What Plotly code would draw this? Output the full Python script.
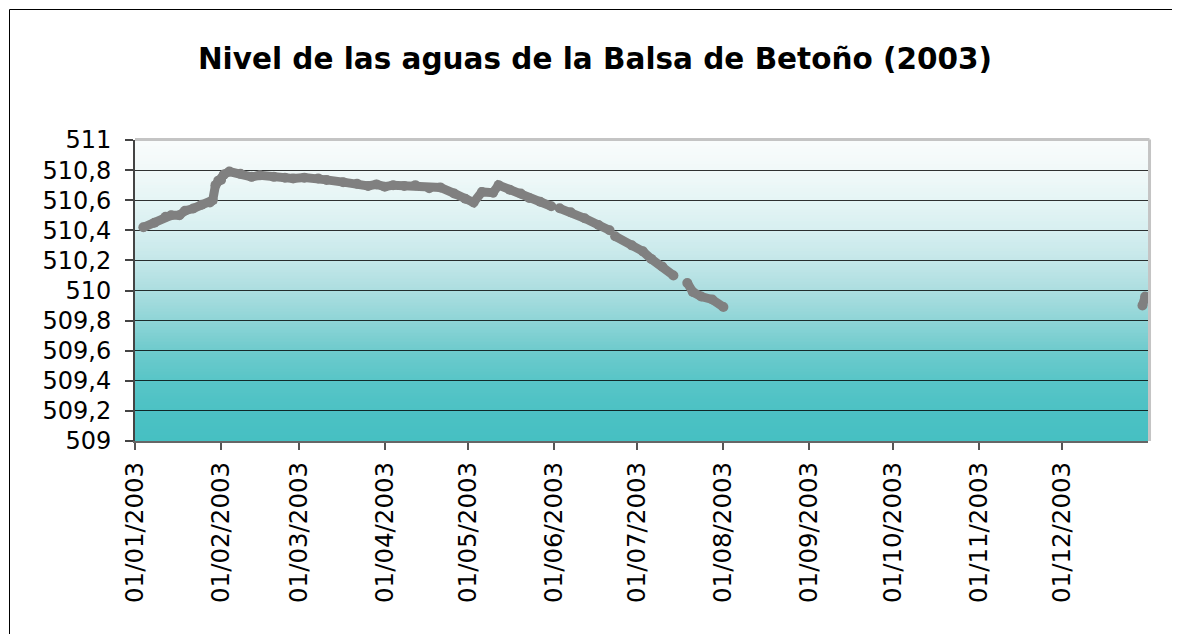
import plotly.graph_objects as go

# ---- data ----
dates = [
    "2003-01-04", "2003-01-08", "2003-01-12", "2003-01-14", "2003-01-17", "2003-01-19",
    "2003-01-22", "2003-01-25", "2003-01-28", "2003-01-29", "2003-01-30", "2003-01-31",
    "2003-02-01", "2003-02-02", "2003-02-04", "2003-02-08", "2003-02-12", "2003-02-15",
    "2003-02-20", "2003-02-24", "2003-02-27", "2003-03-03", "2003-03-08", "2003-03-11",
    "2003-03-17", "2003-03-22", "2003-03-26", "2003-03-29", "2003-04-01", "2003-04-04",
    "2003-04-08", "2003-04-12", "2003-04-17", "2003-04-21", "2003-04-26", "2003-04-30",
    "2003-05-03", "2003-05-06", "2003-05-10", "2003-05-12", "2003-05-16", "2003-05-20",
    "2003-05-23", "2003-05-27", "2003-05-31", "2003-06-01", "2003-06-03", "2003-06-07",
    "2003-06-12", "2003-06-17", "2003-06-21", "2003-06-22", "2003-06-23", "2003-06-29",
    "2003-07-03", "2003-07-06", "2003-07-10", "2003-07-14", "2003-07-15", "2003-07-19",
    "2003-07-21", "2003-07-24", "2003-07-28", "2003-08-01", "2003-08-02", "2003-12-30",
    "2003-12-31",
]
levels = [
    510.42, 510.45, 510.49, 510.50, 510.50, 510.53,
    510.545, 510.57, 510.585, 510.60, 510.70, 510.73,
    510.735, 510.77, 510.79, 510.775, 510.755, 510.765,
    510.755, 510.75, 510.745, 510.75, 510.745, 510.735,
    510.72, 510.71, 510.695, 510.705, 510.69, 510.70,
    510.695, 510.70, 510.68, 510.685, 510.645, 510.61,
    510.585, 510.655, 510.65, 510.70, 510.67, 510.645,
    510.615, 510.59, 510.56, None, 510.546, 510.52,
    510.48, 510.435, 510.40, None, 510.36, 510.30,
    510.26, 510.21, 510.16, 510.10, None, 510.05,
    509.99, 509.96, 509.94, 509.89, None, 509.90,
    509.96,
]

month_ticks = ["2003-01-01", "2003-02-01", "2003-03-01", "2003-04-01", "2003-05-01",
               "2003-06-01", "2003-07-01", "2003-08-01", "2003-09-01", "2003-10-01",
               "2003-11-01", "2003-12-01"]
month_labels = ["01/01/2003", "01/02/2003", "01/03/2003", "01/04/2003", "01/05/2003",
                "01/06/2003", "01/07/2003", "01/08/2003", "01/09/2003", "01/10/2003",
                "01/11/2003", "01/12/2003"]
y_ticks = [509.0, 509.2, 509.4, 509.6, 509.8, 510.0, 510.2, 510.4, 510.6, 510.8, 511.0]
y_labels = ["509", "509,2", "509,4", "509,6", "509,8", "510", "510,2", "510,4",
            "510,6", "510,8", "511"]

title_text = "Nivel de las aguas de la Balsa de Betoño (2003)"

# ---- styling ----
FONT = "DejaVu Sans"
grad_stops = [
    (509.0, (70, 192, 194)),
    (509.2, (76, 193, 196)),
    (509.4, (88, 197, 199)),
    (509.6, (110, 203, 205)),
    (509.8, (143, 213, 215)),
    (510.0, (172, 222, 224)),
    (510.2, (196, 231, 233)),
    (510.4, (215, 239, 240)),
    (510.6, (229, 245, 245)),
    (510.8, (241, 249, 249)),
    (511.0, (249, 252, 252)),
]


def grad_color(v):
    for (a, ca), (b, cb) in zip(grad_stops[:-1], grad_stops[1:]):
        if a <= v <= b:
            t = (v - a) / (b - a)
            c = [round(ca[i] + (cb[i] - ca[i]) * t) for i in range(3)]
            return f"rgb({c[0]},{c[1]},{c[2]})"
    return "rgb(249,252,252)"


# page body adds an 8px offset; layout in figure pixels
OFF = 8
L, T, PW, PH = 135 - OFF, 140 - OFF, 1013, 301
W, H = 1180, 634

shapes = []
n_strips = 100
lo, hi = 509.0, 511.0
step = (hi - lo) / n_strips
for i in range(n_strips):
    y0 = lo + i * step
    y1 = min(hi, y0 + step * 1.3)
    shapes.append(dict(type="rect", xref="paper", yref="y", x0=0, x1=1, y0=y0, y1=y1,
                       fillcolor=grad_color(y0 + step / 2), line=dict(width=0),
                       layer="below"))

# plot area top and right border (light gray)
shapes.append(dict(type="line", xref="paper", yref="paper", x0=0, x1=1.0015, y0=1.002, y1=1.002,
                   line=dict(color="#c4c4c4", width=3), layer="above"))
shapes.append(dict(type="line", xref="paper", yref="paper", x0=1.0015, x1=1.0015, y0=0, y1=1.002,
                   line=dict(color="#c4c4c4", width=3), layer="above"))

# outer chart border (extends beyond the visible canvas on right/bottom)
shapes.append(dict(type="rect", xref="paper", yref="paper",
                   x0=(9.5 - OFF - L) / PW, x1=(1220 - L) / PW,
                   y0=(T + PH - 700) / PH, y1=(T + PH - (9.5 - OFF)) / PH,
                   line=dict(color="#000000", width=1), fillcolor="rgba(0,0,0,0)",
                   layer="above"))

fig = go.Figure()
fig.add_trace(go.Scatter(
    x=dates, y=levels, mode="lines+markers", connectgaps=False,
    line=dict(color="#808080", width=9),
    marker=dict(color="#808080", size=10),
    hoverinfo="x+y", showlegend=False,
))

fig.update_layout(
    width=W, height=H,
    margin=dict(l=L, r=W - L - PW, t=T, b=H - T - PH),
    paper_bgcolor="white", plot_bgcolor="white",
    font=dict(family=FONT, color="#000000", size=24),
    title=dict(text=f"<b>{title_text}</b>", x=(595 - OFF) / W, xref="container", xanchor="center",
               y=1 - (59 - OFF) / H, yref="container", yanchor="middle",
               font=dict(family=FONT, size=29.5, color="#000000")),
    shapes=shapes,
    xaxis=dict(
        type="date", range=["2003-01-01", "2004-01-01"],
        tickvals=month_ticks, ticktext=month_labels, tickangle=-90,
        ticks="outside", ticklen=7, tickwidth=2, tickcolor="#555555",
        showline=True, linecolor="#666666", linewidth=2,
        showgrid=False, zeroline=False, ticklabelstandoff=2,
        tickfont=dict(family=FONT, size=24.5, color="#000000"),
    ),
    yaxis=dict(
        range=[509, 511], tickvals=y_ticks, ticktext=y_labels,
        ticks="outside", ticklen=8, tickwidth=2, tickcolor="#444444",
        showline=True, linecolor="#444444", linewidth=2,
        showgrid=True, gridcolor="rgba(0,0,0,0.8)", gridwidth=1.3,
        zeroline=False, ticklabelstandoff=9,
        tickfont=dict(family=FONT, size=24, color="#000000"),
    ),
)

fig.write_html("out.html")
